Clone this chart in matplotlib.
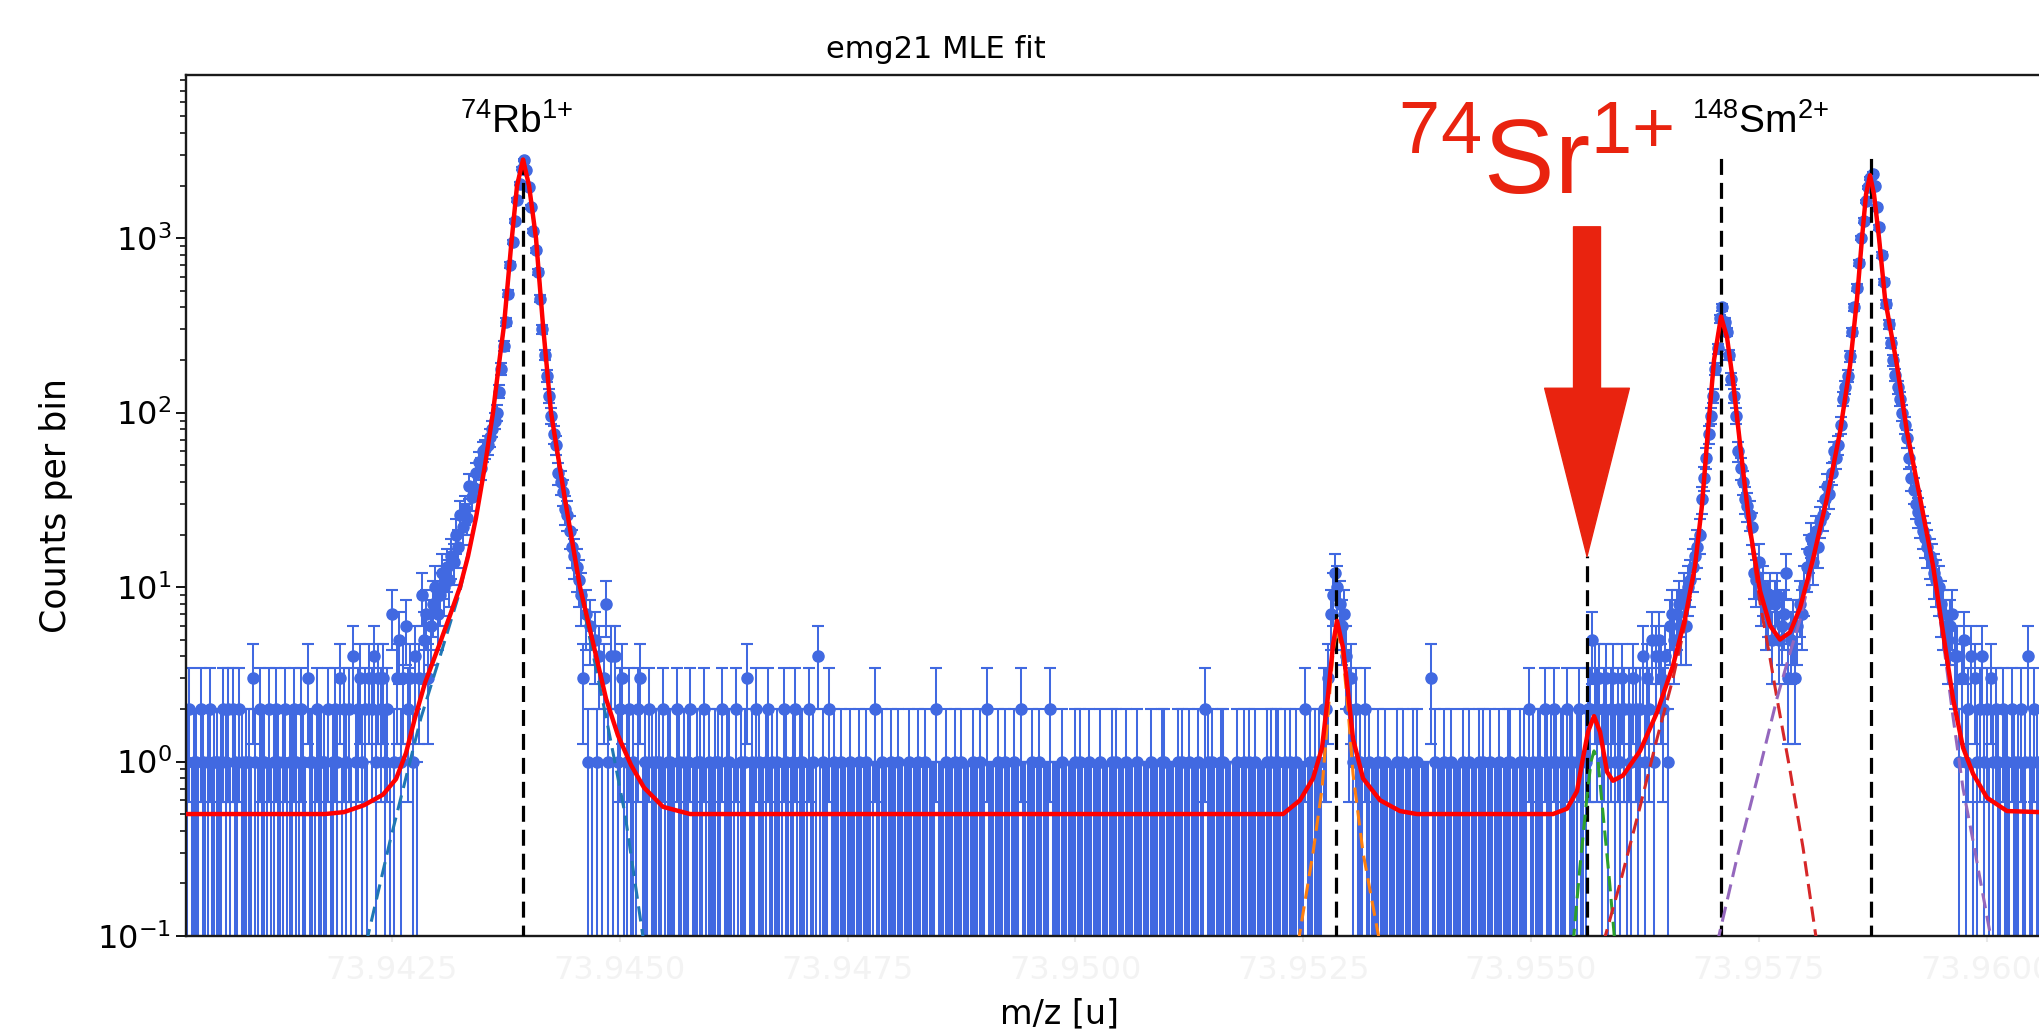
import numpy as np
import matplotlib
matplotlib.use('Agg')
from matplotlib import pyplot as plt
from matplotlib.ticker import MultipleLocator, FormatStrFormatter

# --- binned spectrum: counts per bin, bins of 2.5e-5 u starting at 73.94025 u ---
bin_start = 73.94025
bin_width = 0.000025

bg_left = """1201102101 2011012120 2102101103 1021102012 1012011210 2103110211"""

rb_peak = [1, 0, 2, 0, 1, 2, 1, 3, 0, 2,
           1, 2, 0, 4, 1, 2, 3, 1, 2, 0,
           3, 2, 4, 1, 3, 2, 3, 1, 2, 0,
           7, 1, 3, 5, 1, 3, 6, 2, 3, 1,
           4, 0, 3, 9, 5, 7, 3, 6, 8, 10,
           7, 9, 12, 10, 13, 11, 15, 14, 20, 17,
           26, 22, 28, 25, 38, 33, 37, 45, 52, 48,
           60, 62, 65, 72, 81, 90, 100, 132, 178, 240,
           330, 480, 700, 950, 1250, 1650, 2050, 2500, 2800, 2450,
           1950, 1500, 1100, 850, 640, 450, 300, 215, 163, 125,
           96, 75, 65, 45, 40, 35, 28, 26, 21, 17,
           15, 13, 11, 9, 3, 7, 1, 6, 0, 5,
           1, 4, 0, 3, 8, 1, 4, 0, 4, 1,
           2, 3, 0, 1, 2, 0, 1, 0, 2, 3,
           0, 1, 0, 2, 1, 0, 1]

bg_mid = """1020110021 0101200110 2010011020 1100201013 0102100120 1010021001
2011002010 4010020100 1000100010 0100020010 0010010000 1000100100
0020001000 1001000010 0100200001 0010001002 0000100100 0020000100
0001010001 0000100001 0100010000 1000001000 0110000010 1001000100
2101000110 0000100101 0010000101 0110010100 100020101"""

small_peak = [0, 1, 0, 2, 2, 3, 7, 9, 12, 10, 8, 6, 7, 4, 2, 3, 1, 2, 0, 1, 0, 2]

bg_mid2 = """0100010010 0001001000 1010000030 1000100100 0010010001 0100100010
0011000101 02"""

sr_sm_peaks = [0, 1, 0, 1, 1, 0, 2, 1, 0, 1,
               2, 1, 0, 1, 1, 0, 2, 1, 1, 0,
               1, 2, 1, 0, 1, 2, 2, 5, 3, 2,
               3, 1, 2, 3, 1, 2, 3, 1, 2, 1,
               3, 2, 0, 2, 1, 3, 2, 1, 2, 4,
               1, 3, 2, 5, 1, 4, 5, 3, 2, 4,
               1, 6, 7, 5, 7, 8, 6, 9, 6, 10,
               11, 13, 15, 17, 20, 32, 42, 55, 75, 96,
               125, 178, 233, 346, 400, 330, 290, 215, 156, 125,
               96, 60, 48, 40, 32, 29, 26, 22, 12, 11,
               14, 9, 10, 7, 8, 9, 5, 8, 9, 5,
               6, 7, 12, 3, 5, 6, 3, 6, 8, 7,
               10, 13, 16, 19, 14, 21, 17, 24, 26, 32,
               38, 34, 45, 60, 55, 65, 85, 120, 140, 163,
               210, 290, 400, 520, 720, 1000, 1260, 1620, 1950, 2200,
               2340, 2000, 1500, 1150, 800, 560, 420, 320, 250, 200,
               165, 140, 120, 100, 85, 71, 55, 42, 36, 30,
               27, 24, 21, 19, 17, 15, 14, 12, 11, 10,
               8, 7, 6, 5, 6, 7, 4, 4, 1, 3,
               5, 1, 2, 4, 0, 3, 1, 2, 4, 1,
               2, 0, 3, 1, 2, 1, 0, 2, 1, 1,
               0, 2, 1, 0, 1, 2, 0, 1, 4, 1,
               0, 2, 1, 0]


def digits(s):
    return [int(c) for c in s if c.isdigit()]


counts = np.array(digits(bg_left) + rb_peak + digits(bg_mid) + small_peak
                  + digits(bg_mid2) + sr_sm_peaks, dtype=float)
mz = bin_start + bin_width * np.arange(len(counts))
counts_err = np.sqrt(np.maximum(counts, 1))

# --- total fit curve ---
fit_mz = [73.940239, 73.941765, 73.941973, 73.942193, 73.942401, 73.942544, 73.942654,
          73.942752, 73.942862, 73.943027, 73.943137, 73.943246, 73.943334, 73.943422,
          73.943521, 73.943608, 73.943674, 73.943729, 73.943806, 73.943872, 73.943938,
          73.944004, 73.94408, 73.944157, 73.944245, 73.944399, 73.944563, 73.944706,
          73.944849, 73.94498, 73.945123, 73.945266, 73.945474, 73.945771,
          73.952279, 73.952465, 73.952608, 73.952707, 73.952773, 73.952828, 73.952871,
          73.952937, 73.952992, 73.953047, 73.953157, 73.953343, 73.953563, 73.953749,
          73.955242, 73.955396, 73.955505, 73.955571, 73.955626, 73.955692, 73.955758,
          73.955835, 73.9559, 73.95601, 73.956197, 73.956383, 73.956559, 73.956691,
          73.9568, 73.956877, 73.956943, 73.957009, 73.957086, 73.957152, 73.957217,
          73.957316, 73.957404, 73.957514, 73.957624, 73.957733, 73.957843, 73.957953,
          73.958096, 73.958249, 73.958392, 73.958502, 73.958578, 73.958633, 73.958677,
          73.958721, 73.958765, 73.95882, 73.958886, 73.959017, 73.959127, 73.95927,
          73.959413, 73.959522, 73.959632, 73.959742, 73.959852, 73.960005, 73.960225,
          73.961245]
fit_val = [0.50, 0.50, 0.513, 0.562, 0.646, 0.794, 1.12, 1.78, 2.82, 4.79, 6.9, 10, 15,
           25, 50, 100, 190, 316, 891, 1995, 2818, 1995, 1000, 316, 100, 31.6, 10, 4.79,
           2.29, 1.41, 0.955, 0.708, 0.55, 0.50,
           0.50, 0.60, 0.80, 1.20, 2.40, 4.70, 6.40, 4.50, 2.50, 1.35, 0.80, 0.60, 0.52, 0.50,
           0.50, 0.537, 0.676, 1.05, 1.48, 1.82, 1.48, 0.871, 0.776, 0.832, 1.15, 1.91,
           3.55, 6.6, 13.2, 29.5, 79.4, 200, 355, 269, 151, 52.5, 21.4, 9.5, 6.0, 5.0,
           5.5, 7.6, 14.5, 32.4, 77.6, 186, 447, 1000, 1778, 2291, 1778, 1000, 447, 186,
           77.6, 32.4, 13.2, 5.5, 2.29, 1.2, 0.85, 0.62, 0.52, 0.50]

# --- single peak components ---
rb_comp_mz = [73.942215, 73.942478, 73.942818, 73.943027, 73.943246, 73.943422, 73.943608,
              73.943729, 73.943806, 73.943872, 73.943938, 73.944004, 73.94408, 73.944157,
              73.944245, 73.944399, 73.944563, 73.944849, 73.945057, 73.945266]
rb_comp_val = [0.09, 0.35, 1.78, 4.0, 9.5, 25, 100, 316, 891, 1995, 2818, 1995, 1000, 316,
               100, 31.6, 9.5, 1.8, 0.5, 0.09]

p2_comp_mz = [73.952443, 73.952608, 73.952707, 73.952773, 73.952828, 73.952871, 73.952937,
              73.952992, 73.953047, 73.953157, 73.953343]
p2_comp_val = [0.09, 0.3, 0.7, 1.9, 4.2, 5.9, 4.0, 2.0, 0.85, 0.3, 0.09]

sr_comp_mz = [73.955462, 73.955538, 73.955615, 73.955659, 73.955692, 73.955736, 73.955791,
              73.955857, 73.955922]
sr_comp_val = [0.09, 0.25, 0.63, 1.0, 1.15, 1.0, 0.5, 0.22, 0.09]

sm_comp_mz = [73.955791, 73.955977, 73.956197, 73.956383, 73.956559, 73.956691, 73.9568,
              73.956877, 73.956943, 73.957009, 73.957086, 73.957152, 73.957217, 73.957316,
              73.957404, 73.957514, 73.957624, 73.9577, 73.957843, 73.957986, 73.958139]
sm_comp_val = [0.09, 0.2, 0.55, 1.35, 3.0, 6.1, 12.7, 29, 79, 200, 355, 268, 150, 51.7,
               20.5, 8.1, 3.9, 2.3, 0.89, 0.32, 0.09]

p5_comp_mz = [73.957042, 73.957261, 73.957481, 73.9577, 73.957843, 73.957953, 73.958096,
              73.958249, 73.958392, 73.958502, 73.958578, 73.958633, 73.958677, 73.958721,
              73.958765, 73.95882, 73.958886, 73.959017, 73.959127, 73.95927, 73.959413,
              73.959522, 73.959632, 73.959742, 73.959852, 73.96006]
p5_comp_val = [0.09, 0.28, 0.79, 2.3, 4.2, 6.5, 13.5, 31.5, 77, 185, 446, 999, 1777, 2290,
               1777, 999, 446, 185, 77, 31.9, 12.6, 5.0, 1.8, 0.7, 0.35, 0.09]

# peak markers: centroid and height of the dashed marker line
peak_mz = [73.943938, 73.95286, 73.955615, 73.957086, 73.958732]
peak_top = [2900, 13, 15, 2900, 2900]

W, H = 2039, 1033
fig = plt.figure(figsize=(W / 100, H / 100), dpi=100)
ax = fig.add_axes([186 / W, 97 / H, 1914 / W, 861 / H])
ax.set_yscale('log')

ax.errorbar(mz, counts, yerr=counts_err, fmt='o', color='royalblue', markersize=8,
            elinewidth=1.45, capsize=4.5, capthick=1.5, zorder=2)

dash = (0, (5, 2.5))
ax.vlines(peak_mz, 0.05, peak_top, colors='black', linestyles=dash, linewidth=2.3, zorder=3)

comps = [(rb_comp_mz, rb_comp_val, '#1f77b4'), (p2_comp_mz, p2_comp_val, '#ff7f0e'),
         (sr_comp_mz, sr_comp_val, '#2ca02c'), (sm_comp_mz, sm_comp_val, '#d62728'),
         (p5_comp_mz, p5_comp_val, '#9467bd')]
for cx, cy, c in comps:
    ax.plot(cx, cy, color=c, linestyle=dash, linewidth=2.2, zorder=4)

ax.plot(fit_mz, fit_val, color='red', linewidth=3.2, zorder=5)

ax.set_xlim(73.940239, 73.961245)
ax.set_ylim(0.1, 8600)

ax.xaxis.set_major_locator(MultipleLocator(0.0025))
ax.xaxis.set_major_formatter(FormatStrFormatter('%.4f'))
ax.tick_params(axis='x', labelsize=23, labelcolor='#f3f3f3', color='#e8e8e8',
               length=4, width=1.5, pad=10)
ax.tick_params(axis='y', which='major', labelsize=23, length=7, width=1.3)
ax.tick_params(axis='y', which='minor', length=4, width=1.1)

for side in ['left', 'top', 'bottom']:
    ax.spines[side].set_linewidth(1.7)
    ax.spines[side].set_color('#1a1a1a')
ax.spines['right'].set_visible(False)

ax.set_title('emg21 MLE fit', fontsize=22, x=(936 - 186) / 1914, pad=12)
ax.set_ylabel('Counts per bin', fontsize=25)
ax.yaxis.set_label_coords(-0.059, 0.5)
ax.set_xlabel('m/z [u]', fontsize=24)
ax.xaxis.set_label_coords((1060 - 186) / 1914, -0.071)

# peak labels
lab_font = dict(family='Liberation Sans', ha='center', va='baseline')
fig.text(517 / W, 1 - 133 / H, r'$\mathregular{^{74}Rb^{1{+}}}$', fontsize=28, **lab_font)
fig.text(1761 / W, 1 - 133 / H, r'$\mathregular{^{148}Sm^{2{+}}}$', fontsize=28, **lab_font)
fig.text(1535 / W, 1 - 193 / H, r'$\mathregular{^{74}Sr^{1{+}}}$', fontsize=76,
         color='#e9230f', **lab_font)

# arrow pointing down at the 74Sr marker
ax.annotate('', xy=(peak_mz[2], peak_top[2]), xytext=(peak_mz[2], 1160),
            arrowprops=dict(arrowstyle='simple,head_length=121,head_width=61,tail_width=19.4',
                            mutation_scale=1, color='#e9230f', shrinkA=0, shrinkB=0),
            zorder=6)

fig.savefig('out.png', dpi=100)
